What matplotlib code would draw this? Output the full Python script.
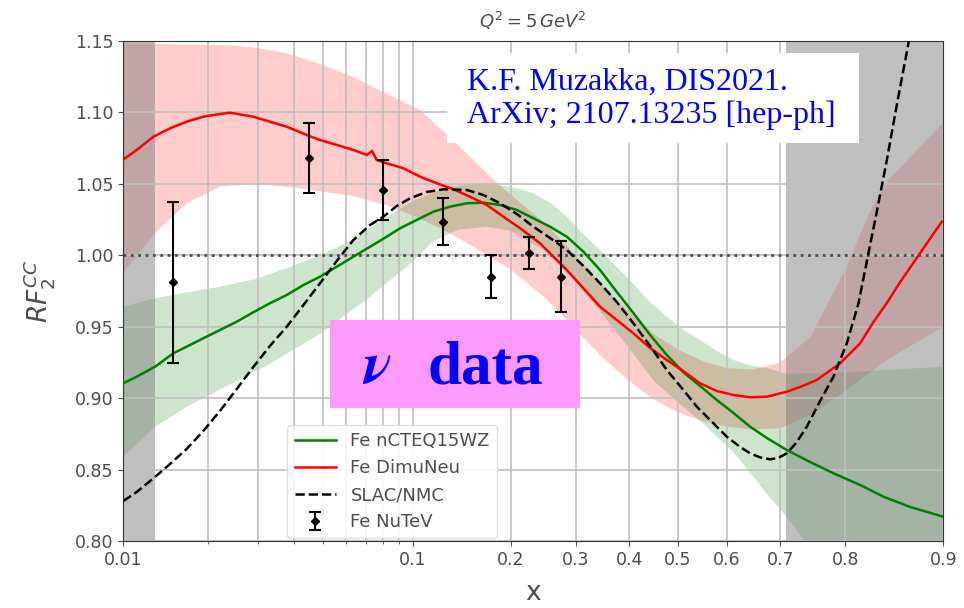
import matplotlib
matplotlib.use("Agg")
import matplotlib.pyplot as plt
from matplotlib.patches import Rectangle
from matplotlib.ticker import FixedLocator, FixedFormatter, NullFormatter

# ---------------- data ----------------
# Fe nCTEQ15WZ (green line)
ncteq_x = [0.01, 0.01116, 0.01297, 0.01506, 0.01678, 0.01922, 0.0220, 0.0252, 0.0288, 0.0329,
           0.03765, 0.0430, 0.0490, 0.0559, 0.0636, 0.0724, 0.0822, 0.0909, 0.1030, 0.1164,
           0.1314, 0.1481, 0.1663, 0.1863, 0.2082, 0.2318, 0.2573, 0.2847, 0.3135, 0.3439,
           0.3759, 0.4085, 0.4425, 0.4768, 0.5105, 0.5456, 0.5796, 0.6128, 0.6450, 0.6761,
           0.7111, 0.7492, 0.7837, 0.8189, 0.8458, 0.8725, 0.9]
ncteq_y = [0.9104, 0.9150, 0.9220, 0.9314, 0.9360, 0.9419, 0.9477, 0.9535, 0.9601, 0.9664,
           0.9722, 0.9792, 0.9850, 0.9920, 0.9990, 1.0060, 1.0130, 1.0189, 1.0247, 1.0305,
           1.0340, 1.0364, 1.0368, 1.0352, 1.0317, 1.0259, 1.0200, 1.0130, 1.0025, 0.9897,
           0.9743, 0.9596, 0.9442, 0.9302, 0.9183, 0.9085, 0.8987, 0.8896, 0.8800, 0.8721,
           0.8637, 0.8553, 0.8474, 0.8392, 0.8310, 0.8238, 0.8170]
# nCTEQ15WZ uncertainty band
ncteq_hi_x = [0.01, 0.013, 0.0168, 0.022, 0.0288, 0.0377, 0.049, 0.0635, 0.0822, 0.1, 0.122,
              0.15, 0.17, 0.2, 0.231, 0.26, 0.285, 0.31, 0.344, 0.375, 0.4085, 0.44, 0.477,
              0.51, 0.546, 0.58, 0.613, 0.645, 0.676, 0.711, 0.8, 0.9]
ncteq_hi = [0.964, 0.970, 0.974, 0.978, 0.983, 0.991, 1.000, 1.011, 1.027, 1.038, 1.046,
            1.050, 1.050, 1.048, 1.0436, 1.036, 1.027, 1.016, 1.0037, 0.992, 0.980, 0.968, 0.957,
            0.948, 0.9407, 0.933, 0.9267, 0.923, 0.921, 0.917, 0.918, 0.922]
ncteq_lo_x = [0.01, 0.013, 0.0168, 0.022, 0.0329, 0.049, 0.0724, 0.098, 0.1164, 0.14, 0.17,
              0.2, 0.25, 0.3, 0.35, 0.4, 0.45, 0.5, 0.546, 0.58, 0.613, 0.645, 0.676, 0.711,
              0.74, 0.8, 0.9]
ncteq_lo = [0.859, 0.880, 0.894, 0.906, 0.924, 0.945, 0.971, 0.994, 1.010, 1.018, 1.020,
            1.017, 1.003, 0.982, 0.958, 0.935, 0.912, 0.897, 0.884, 0.873, 0.862, 0.848, 0.833,
            0.817, 0.800, 0.770, 0.720]

# Fe DimuNeu (red line)
dimu_x = [0.01, 0.01116, 0.0128, 0.01466, 0.01678, 0.01922, 0.0220, 0.02387, 0.0288, 0.0329,
          0.03765, 0.0441, 0.0490, 0.0559, 0.0636, 0.0706, 0.0735, 0.0761, 0.0822, 0.0932,
          0.1056, 0.1194, 0.1346, 0.1515, 0.1702, 0.1905, 0.2128, 0.2418, 0.2573, 0.2847,
          0.3130, 0.3439, 0.3759, 0.4085, 0.4425, 0.4768, 0.5105, 0.5456, 0.5796, 0.6128,
          0.6450, 0.6761, 0.7111, 0.7332, 0.7595, 0.7930, 0.8189, 0.8347, 0.8494, 0.8630,
          0.8814, 0.8989]
dimu_y = [1.0670, 1.0737, 1.0830, 1.0889, 1.0935, 1.0970, 1.0989, 1.0998, 1.0970, 1.0935,
          1.0900, 1.0842, 1.0807, 1.0772, 1.0737, 1.0702, 1.0730, 1.0667, 1.0644, 1.0609,
          1.0550, 1.0504, 1.0462, 1.0410, 1.0352, 1.0270, 1.0189, 1.0084, 1.0014, 0.9897,
          0.9771, 0.9640, 0.9547, 0.9454, 0.9351, 0.9267, 0.9190, 0.9104, 0.9050, 0.9022,
          0.9006, 0.9010, 0.9045, 0.9078, 0.9127, 0.9244, 0.9384, 0.9533, 0.9666, 0.9813,
          1.0016, 1.0235]
# DimuNeu uncertainty band
dimu_hi_x = [0.01, 0.013, 0.024, 0.030, 0.0377, 0.049, 0.0634, 0.0822, 0.1056, 0.134, 0.170,
             0.19, 0.21, 0.25, 0.3, 0.35, 0.4, 0.45, 0.5, 0.55, 0.6, 0.65, 0.7, 0.75, 0.8,
             0.83, 0.85, 0.9]
dimu_hi = [1.148, 1.148, 1.147, 1.145, 1.1414, 1.134, 1.125, 1.113, 1.1017, 1.0807, 1.0576,
           1.047, 1.038, 1.022, 1.000, 0.978, 0.960, 0.945, 0.934, 0.926, 0.921, 0.920, 0.925,
           0.943, 0.990, 1.030, 1.052, 1.093]
dimu_lo_x = [0.01, 0.013, 0.0168, 0.022, 0.0288, 0.0377, 0.0429, 0.0634, 0.0822, 0.1, 0.125,
             0.15, 0.2, 0.25, 0.3, 0.35, 0.4, 0.45, 0.5, 0.55, 0.6, 0.65, 0.7, 0.75, 0.8,
             0.85, 0.9]
dimu_lo = [0.988, 1.0156, 1.0364, 1.048, 1.050, 1.048, 1.0464, 1.0415, 1.035, 1.028, 1.018,
           1.008, 0.990, 0.970, 0.948, 0.928, 0.912, 0.899, 0.890, 0.884, 0.880, 0.878, 0.879,
           0.888, 0.905, 0.927, 0.950]

# SLAC/NMC (black dashed)
slac_x = [0.01, 0.01116, 0.0128, 0.01466, 0.01678, 0.01922, 0.0220, 0.0252, 0.0288, 0.0329,
          0.03765, 0.0430, 0.0490, 0.0559, 0.0636, 0.0724, 0.0801, 0.0887, 0.0980, 0.1110,
          0.1252, 0.1481, 0.1663, 0.1863, 0.2082, 0.2318, 0.2573, 0.2847, 0.3135, 0.3439,
          0.3759, 0.4085, 0.4425, 0.4768, 0.5111, 0.5388, 0.5661, 0.5997, 0.6259, 0.6450,
          0.6638, 0.6820, 0.6962, 0.7111, 0.7268, 0.7440, 0.7644, 0.7837, 0.8019, 0.8168,
          0.8288, 0.8388, 0.8494, 0.8600, 0.8709, 0.8770]
slac_y = [0.8280, 0.8343, 0.8439, 0.8539, 0.8644, 0.8770, 0.8910, 0.9064, 0.9218, 0.9365,
          0.9500, 0.9652, 0.9804, 0.9960, 1.0107, 1.0212, 1.0270, 1.0345, 1.0399, 1.0443,
          1.0462, 1.0457, 1.0422, 1.0364, 1.0289, 1.0200, 1.0121, 1.0037, 0.9925, 0.9804,
          0.9673, 0.9524, 0.9365, 0.9197, 0.9057, 0.8940, 0.8847, 0.8730, 0.8658, 0.8614,
          0.8585, 0.8572, 0.8581, 0.8614, 0.8686, 0.8800, 0.8980, 0.9150, 0.9384, 0.9664,
          1.0014, 1.0317, 1.0667, 1.1066, 1.1484, 1.1800]

# Fe NuTeV data points
nutev_x = [0.015, 0.045, 0.080, 0.125, 0.175, 0.225, 0.275]
nutev_y = [0.981, 1.068, 1.046, 1.0235, 0.985, 1.0015, 0.985]
nutev_err = [0.0565, 0.0245, 0.021, 0.0166, 0.015, 0.0112, 0.025]

# shaded (excluded) x-ranges
excl_left = (0.01, 0.013)
excl_right = (0.71, 0.9)

xticks_major = [0.01, 0.1, 0.2, 0.3, 0.4, 0.5, 0.6, 0.7, 0.8, 0.9]
xtick_labels = ["0.01", "0.1", "0.2", "0.3", "0.4", "0.5", "0.6", "0.7", "0.8", "0.9"]
xticks_minor = [0.02, 0.03, 0.04, 0.05, 0.06, 0.07, 0.08, 0.09]
yticks = [0.80, 0.85, 0.90, 0.95, 1.00, 1.05, 1.10, 1.15]

# ---------------- figure ----------------
fig = plt.figure(figsize=(9.64, 6.08), dpi=100)
ax = fig.add_axes([0.1279, 0.1102, 0.8506, 0.8224])
ax.set_xscale("logit")

ax.fill(dimu_hi_x + dimu_lo_x[::-1], dimu_hi + dimu_lo[::-1],
        color="red", alpha=0.2, lw=0, zorder=1)
ax.fill(ncteq_hi_x + ncteq_lo_x[::-1], ncteq_hi + ncteq_lo[::-1],
        color="green", alpha=0.2, lw=0, zorder=1)

ax.axvspan(*excl_left, color="gray", alpha=0.5, lw=0, zorder=1.5)
ax.axvspan(*excl_right, color="gray", alpha=0.5, lw=0, zorder=1.5)

ax.axhline(1.0, color="0.3", ls=":", lw=2, zorder=2)

l1, = ax.plot(ncteq_x, ncteq_y, color="green", lw=1.8, zorder=3, label="Fe nCTEQ15WZ")
l2, = ax.plot(dimu_x, dimu_y, color="red", lw=1.8, zorder=3, label="Fe DimuNeu")
l3, = ax.plot(slac_x, slac_y, color="black", ls="--", lw=1.8, zorder=3, label="SLAC/NMC")
eb = ax.errorbar(nutev_x, nutev_y, yerr=nutev_err, fmt="D", color="black", ms=4.5,
                 capsize=4, elinewidth=1.5, capthick=1.5, zorder=4, label="Fe NuTeV")

ax.set_xlim(0.01, 0.9)
ax.set_ylim(0.80, 1.15)
ax.xaxis.set_major_locator(FixedLocator(xticks_major))
ax.xaxis.set_major_formatter(FixedFormatter(xtick_labels))
ax.xaxis.set_minor_locator(FixedLocator(xticks_minor))
ax.xaxis.set_minor_formatter(NullFormatter())
ax.set_yticks(yticks)
ax.set_yticklabels([f"{v:.2f}" for v in yticks])
ax.tick_params(labelsize=12.5, colors="0.3")
ax.tick_params(which="minor", length=2.5, colors="0.3")
ax.grid(True, which="both", axis="x", color="0.75", lw=1.2)
ax.grid(True, which="major", axis="y", color="0.75", lw=1.2)
for s in ax.spines.values():
    s.set_color("0.2")

ax.set_title(r"$Q^2 = 5\,GeV^2$", fontsize=13, color="0.3", pad=9)
ax.set_xlabel("x", fontsize=19, color="0.3", labelpad=8)
ax.set_ylabel(r"$RF_2^{CC}$", fontsize=19, color="0.3", labelpad=13)

leg = ax.legend(handles=[l1, l2, l3, eb], loc="lower left", bbox_to_anchor=(0.2, 0.005),
                borderaxespad=0, fontsize=13, framealpha=0.85, edgecolor="0.85",
                handlelength=2.3)
for t in leg.get_texts():
    t.set_color("0.3")

# annotation boxes
fig.add_artist(Rectangle((447 / 964, 1 - 143 / 608), 412 / 964, 90 / 608,
                         transform=fig.transFigure, facecolor="white", edgecolor="none", zorder=10))
fig.text(467 / 964, 1 - 99 / 608, "K.F. Muzakka, DIS2021.\nArXiv; 2107.13235 [hep-ph]",
         fontsize=23, family="Liberation Serif", color="blue", ha="left", va="center",
         linespacing=1.15, zorder=11)

fig.add_artist(Rectangle((330 / 964, 1 - 408 / 608), 250 / 964, 88 / 608,
                         transform=fig.transFigure, facecolor="#ff99ff", edgecolor="none", zorder=10))
fig.text(363 / 964, 1 - 383 / 608, "\u03bd", fontsize=43, family="STIXGeneral",
         style="italic", weight="bold", color="blue", ha="left", va="baseline", zorder=11)
fig.text(428 / 964, 1 - 383 / 608, "data", fontsize=44, family="Liberation Serif",
         weight="bold", color="blue", ha="left", va="baseline", zorder=11)

fig.savefig("out.png", dpi=100)
